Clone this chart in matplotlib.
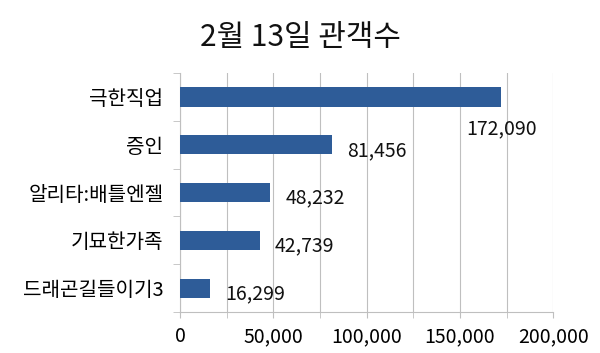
import numpy as np
import matplotlib.pyplot as plt
from matplotlib.ticker import MultipleLocator, FuncFormatter, FixedLocator

plt.rcParams['font.family'] = ['Noto Sans CJK KR', 'DejaVu Sans']

movies = ["극한직업", "증인", "알리타:배틀엔젤", "기묘한가족", "드래곤길들이기3"]
audience = [172090, 81456, 48232, 42739, 16299]
title = "2월 13일 관객수"

bar_color = "#2E5C98"
grid_color = "#BFBFBF"

fig = plt.figure(figsize=(6.0, 3.53), dpi=100)
ax = fig.add_axes([0.30, 0.116, 0.622, 0.677])

y = np.arange(len(movies))[::-1]
ax.barh(y, audience, height=0.4, color=bar_color, zorder=3)

ax.set_xlim(0, 200000)
ax.set_ylim(-0.5, len(movies) - 0.5)

ax.xaxis.set_major_locator(MultipleLocator(50000))
ax.xaxis.set_minor_locator(MultipleLocator(25000))
ax.xaxis.set_major_formatter(FuncFormatter(lambda v, p: f"{int(v):,}"))
ax.grid(axis="x", which="both", color=grid_color, linewidth=0.8, zorder=0)

ax.set_yticks(y)
ax.set_yticklabels(movies, fontsize=14.5)
ax.yaxis.set_minor_locator(FixedLocator(np.arange(-0.5, len(movies), 1.0)))
ax.tick_params(axis="y", which="major", length=0, pad=12)
ax.tick_params(axis="y", which="minor", length=5, color=grid_color, direction="out")
ax.tick_params(axis="x", which="both", length=4, color=grid_color, labelsize=14, pad=6)

for s in ["top", "right"]:
    ax.spines[s].set_visible(False)
for s in ["left", "bottom"]:
    ax.spines[s].set_color(grid_color)
    ax.spines[s].set_linewidth(0.8)

# value labels, the longest bar gets its label under the bar end
for i, (yy, v) in enumerate(zip(y, audience)):
    if i == 0:
        ax.annotate(f"{v:,}", (v, yy), xytext=(0, -23), textcoords="offset points",
                    ha="center", va="center", fontsize=14, color="#111111")
    else:
        ax.annotate(f"{v:,}", (v, yy), xytext=(11, -4), textcoords="offset points",
                    ha="left", va="center", fontsize=14, color="#111111")

fig.text(0.5, 0.895, title, ha="center", va="center", fontsize=21.5, color="#111111")

fig.savefig("out.png", dpi=100)
